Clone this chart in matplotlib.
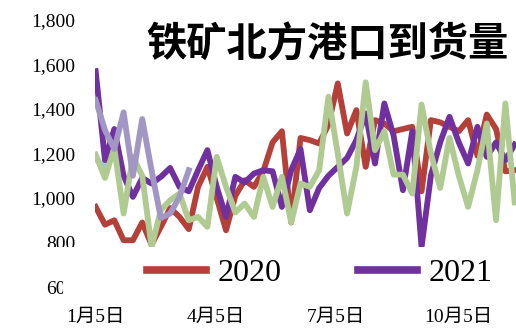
import matplotlib
matplotlib.use("Agg")
import matplotlib.pyplot as plt
import matplotlib.patches as mpatches
import pandas as pd

weeks = pd.date_range("2021-01-05", periods=46, freq="7D")

s2020 = [960, 880, 900, 810, 810, 890, 790, 870, 955, 915, 860, 1050, 1140, 1000, 855, 1010,
         1080, 1050, 1120, 1250, 1300, 890, 1270, 1260, 1245, 1330, 1515, 1290, 1395, 1140, 1350,
         1335, 1300, 1310, 1320, 1030, 1350, 1340, 1320, 1300, 1350, 1190, 1375, 1310, 1120, 1125]
s2021 = [1570, 1170, 1310, 1100, 1005, 1090, 1065, 1095, 1135, 1050, 1030, 1125, 1215, 1050, 915,
         1095, 1070, 1110, 1125, 1120, 960, 1125, 1220, 945, 1045, 1100, 1140, 1180, 1260, 1380,
         1155, 1425, 1280, 1035, 1300, 780, 1100, 1250, 1365, 1250, 1155, 1320, 1185, 1250, 1170, 1240]
s_green = [1195, 1090, 1225, 930, 1185, 1100, 780, 945, 990, 1020, 900, 915, 870, 1185, 1050, 935,
           975, 915, 1095, 960, 1095, 890, 1065, 1050, 1125, 1455, 1200, 930, 1140, 1520, 1215,
           1300, 1105, 1105, 1020, 1420, 1200, 1045, 1270, 1100, 960, 1125, 1335, 900, 1425, 980]
s_lpurple = [1440, 1305, 1220, 1385, 1100, 1355, 1125, 910, 930, 1005, 1125]
s_lblue = [1180, 1130, 1220]

yticks = [600, 800, 1000, 1200, 1400, 1600, 1800]
ytick_labels = ["600", "800", "1,000", "1,200", "1,400", "1,600", "1,800"]
xtick_dates = pd.to_datetime(["2021-01-05", "2021-04-05", "2021-07-05", "2021-10-05"])
xtick_labels = ["1月5日", "4月5日", "7月5日", "10月5日"]

fig = plt.figure(figsize=(5.16, 3.30), dpi=100)
ax = fig.add_axes([95/516, 43/330, 1 - 95/516, 267/330])

lw = 4.2
ax.plot(weeks[:len(s_lblue)], s_lblue, color="#9DC3E6", lw=lw, zorder=1)
l20, = ax.plot(weeks, s2020, color="#B5403A", lw=lw, zorder=2)
l21, = ax.plot(weeks, s2021, color="#7030A0", lw=lw, zorder=3)
ax.plot(weeks, s_green, color="#AFCB92", lw=lw, zorder=4)
ax.plot(weeks[:len(s_lpurple)], s_lpurple, color="#A296C4", lw=lw, zorder=5)

ax.set_ylim(600, 1800)
ax.set_xlim(weeks[0] - pd.Timedelta(days=0.5), weeks[0] + pd.Timedelta(days=316))
ax.set_yticks(yticks)
ax.set_yticklabels(ytick_labels, family=["Liberation Serif", "Noto Sans CJK SC"], fontsize=14)
ax.set_xticks(xtick_dates)
ax.set_xticklabels(xtick_labels, family=["Liberation Serif", "Noto Sans CJK SC"], fontsize=14)
ax.tick_params(axis="y", length=0, pad=14)
ax.tick_params(axis="x", length=0, pad=16)
for sp in ax.spines.values():
    sp.set_visible(False)

# white overlay (legend box area) that hides lower part
fig.patches.append(mpatches.Rectangle((63/516, 33/330), 1, (297-247)/330,
                                      transform=fig.transFigure, facecolor="white",
                                      edgecolor="none", zorder=10))
fig.patches.append(mpatches.Rectangle((0, (330-258)/330), 63/516, 11/330,
                                      transform=fig.transFigure, facecolor="white",
                                      edgecolor="none", zorder=10))

leg = fig.legend([l20, l21], ["2020", "2021"], ncol=2, loc="center left",
                 bbox_to_anchor=(131/516, (330-273)/330), frameon=False,
                 prop={"family": "Liberation Serif", "size": 23},
                 handlelength=1.85, handletextpad=0.35, columnspacing=2.4, borderpad=0)
leg.set_zorder(20)
for h in leg.legend_handles:
    h.set_linewidth(5.5)

fig.text(0.634, (330-45)/330, "铁矿北方港口到货量", family=["Noto Sans CJK SC"],
         fontsize=29, fontweight="bold", ha="center", va="center", zorder=20)

fig.savefig("out.png", dpi=100)
